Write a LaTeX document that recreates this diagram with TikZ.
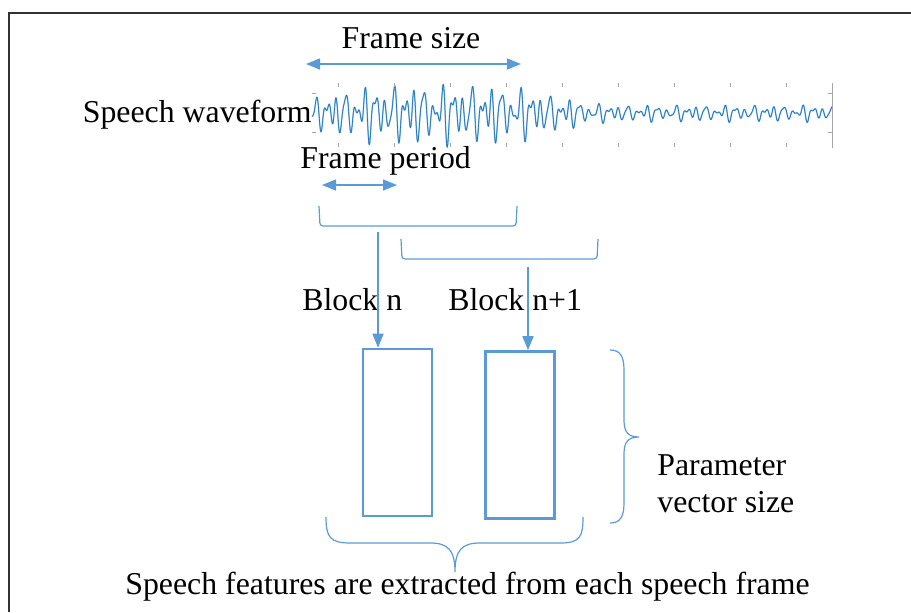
\documentclass[tikz,border=0pt]{standalone}
\usepackage{fontspec}
\setmainfont{Liberation Serif}
\usetikzlibrary{arrows.meta, positioning}
\definecolor{wordblue}{RGB}{91,155,213}
\definecolor{waveblue}{RGB}{30,110,185}
\definecolor{wavelight}{RGB}{120,185,230}

\begin{document}
\begin{tikzpicture}[
    x=0.5pt, y=-0.5pt,
    font=\fontsize{15.9}{18.5}\selectfont,
    >={Triangle[length=7pt, width=5.5pt]},
    txt/.style={inner sep=0pt},
    arrow/.style={<->, wordblue, line width=0.75pt},
    flow/.style={->, wordblue, line width=0.75pt},
    bracket/.style={wordblue, line width=0.6pt, rounded corners=1.5pt},
    curly/.style={wordblue, line width=0.6pt},
    vecbox/.style={draw=wordblue, line width=1.3pt, minimum width=34.5pt, minimum height=83.5pt, inner sep=0pt},
    wave/.style={wavelight, line width=0.7pt, line join=round},
    wavecore/.style={waveblue, line width=0.3pt, line join=round},
    tick/.style={gray!70, line width=0.4pt},
    frameline/.style={black!80, line width=0.75pt},
    declare function={env(\t)=8+21*exp(-min(((\t+1.32)*(\t+1.32)/1.5625)^2,20)); sig(\t)=0.55*sin(3700*\t)+0.3*sin(6000*\t+40)+0.3*sin(2300*\t+70)+0.15*sin(5100*\t+10);}
]
\useasboundingbox (0,0) rectangle (911,612);
\draw[frameline] (9,612) -- (9,13) -- (911,13);

\draw[wave] plot[domain=-2.6:2.6, samples=1000] ({572+100*\x}, {113+env(\x)*sig(\x)});
\draw[wavecore] plot[domain=-2.6:2.6, samples=1000] ({572+100*\x}, {113+env(\x)*sig(\x)});
\foreach \k in {0,...,8} {
    \draw[tick] ({338+56*\k},83) -- ++(0,4);
    \draw[tick] ({338+56*\k},147) -- ++(0,-4);
}
\draw[tick] (832,83) -- (832,148);
\draw[tick] (832,93) -- ++(-4,0) (832,132) -- ++(-4,0);
\draw[tick] (312,93) -- ++(4,0) (312,132) -- ++(4,0);

\node[txt, anchor=base east] (wavetext) at (312,122) {Speech waveform};
\node[txt, anchor=base] (sizetext) at (411,48) {Frame size};
\node[txt, anchor=base west] (periodtext) at (300,168) {Frame period};

\coordinate (sizeL) at (306,64);
\coordinate (sizeR) at (521,64);
\coordinate (perL) at (322,185);
\coordinate (perR) at (397,185);
\draw[arrow] (sizeL) -- (sizeR);
\draw[arrow] (perL) -- (perR);

\draw[bracket] (319,206) -- (320,226) -- (516,226) -- (517,206);
\draw[bracket] (401,239) -- (402,259) -- (597,259) -- (598,239);
\coordinate (brA) at (378,232);
\coordinate (brB) at (528,267);

\node[vecbox] (vecA) at (397.5,432.5) {};
\node[vecbox] (vecB) at (520,435) {};
\node[txt, anchor=base west] (blockA) at (302,310) {Block n};
\node[txt, anchor=base west] (blockB) at (448,310) {Block n+1};

\draw[flow] (brA) -- (brA |- vecA.north);
\draw[flow] (brB) -- (brB |- vecB.north);

\draw[curly] (326,517) .. controls (326,537) and (330,543) .. (350,543) -- (430,543)
    .. controls (448,543) and (455,550) .. (455,572)
    .. controls (455,550) and (462,543) .. (480,543) -- (560,543)
    .. controls (580,543) and (583,537) .. (583,517);
\draw[curly] (610,350) .. controls (620,350) and (624,356) .. (624,370) -- (624,420)
    .. controls (624,432) and (628,437) .. (639,437)
    .. controls (628,437) and (624,442) .. (624,454) -- (624,503)
    .. controls (624,517) and (620,523) .. (610,523);

\node[txt, anchor=north west, align=left] (paramtext) at (657,454) {Parameter\\vector size};
\node[txt, anchor=base] (featuretext) at (467.5,594) {Speech features are extracted from each speech frame};
\end{tikzpicture}
\end{document}
